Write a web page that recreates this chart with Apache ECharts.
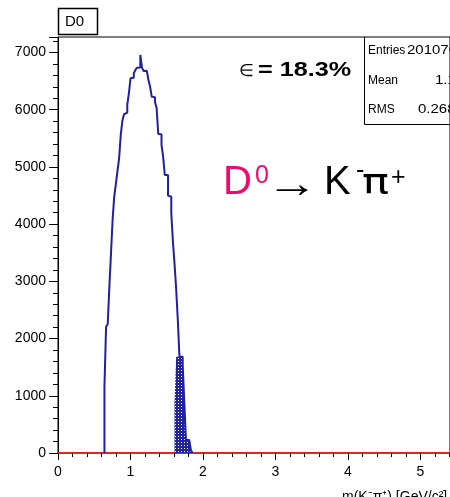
<!DOCTYPE html>
<html>
<head>
<meta charset="utf-8">
<script src="https://cdn.jsdelivr.net/npm/echarts@6/dist/echarts.min.js"></script>
<style>
html,body{margin:0;padding:0;background:#fff;}
#c{width:450px;height:497px;}
</style>
</head>
<body>
<div id="c"></div>
<script>
// ---- histogram definition (bin width 0.0225 GeV/c^2) ----
var binStart = 0.641;
var binWidth = 0.0225;
var counts = [1159, 2208, 2250, 2890, 3478, 4073, 4480, 4700, 4929, 5151,
              5559, 5803, 5921, 5950, 6083, 6288, 6550, 6560, 6637, 6695,
              6735, 6740, 6957, 6735, 6677, 6680, 6670, 6520, 6403, 6228,
              6220, 6136, 6031, 5576, 5570, 5384, 5180, 4859, 4859, 4498,
              4480, 4190, 3694, 3304, 2862, 2325, 1683, 1683, 1538, 874,
              227, 227, 227, 52];
// hatched (selected) part
var hatchStart = 1.6085;
var hatchCounts = [874, 1683, 1683, 1683, 1683, 1538, 874, 227, 227, 227, 52];

var xTicks = [0, 1, 2, 3, 4, 5];
var yTicks = [0, 1000, 2000, 3000, 4000, 5000, 6000, 7000];
var statNames = ['Entries', 'Mean', 'RMS'];
var statValues = ['201070', '1.171', '0.2683'];

function stepData(start, vals) {
  var d = [[start, 0]];
  for (var i = 0; i < vals.length; i++) {
    d.push([+(start + i * binWidth).toFixed(4), vals[i]]);
  }
  d.push([+(start + vals.length * binWidth).toFixed(4), 0]);
  return d;
}

// dotted hatch pattern
var pat = document.createElement('canvas');
pat.width = 3; pat.height = 3;
var pc = pat.getContext('2d');
pc.fillStyle = '#22229c';
pc.fillRect(0, 0, 3, 3);
pc.fillStyle = '#ffffff';
pc.fillRect(1, 1, 1, 1);

var FF = '"Liberation Sans", Arial, sans-serif';
var chart = echarts.init(document.getElementById('c'), null, {renderer: 'canvas'});

var graphics = [
  {type: 'rect', shape: {x: 58.5, y: 8.5, width: 39, height: 26},
   style: {fill: '#fff', stroke: '#000', lineWidth: 1.5}},
  {type: 'text', x: 65, y: 22, style: {text: 'D0', font: '15px ' + FF, fill: '#000', verticalAlign: 'middle'}},
  {type: 'line', shape: {x1: 364.5, y1: 37, x2: 364.5, y2: 124.5}, style: {stroke: '#000', lineWidth: 1}},
  {type: 'line', shape: {x1: 364.5, y1: 124.5, x2: 452, y2: 124.5}, style: {stroke: '#000', lineWidth: 1}},
  {type: 'text', x: 239, y: 71, style: {text: '\u2208', font: '17px ' + FF, fill: '#000', verticalAlign: 'middle'}},
  {type: 'text', x: 258, y: 70, scaleX: 1.2, style: {text: '= 18.3%', font: 'bold 21px ' + FF, fill: '#000', verticalAlign: 'middle'}},
  // D0 -> K- pi+
  {type: 'text', x: 223, y: 183, style: {text: 'D', font: '40px ' + FF, fill: '#f0086c', verticalAlign: 'middle'}},
  {type: 'text', x: 255, y: 176, style: {text: '0', font: '25px ' + FF, fill: '#f0086c', verticalAlign: 'middle'}},
  {type: 'text', x: 266, y: 186, scaleX: 1.3, style: {text: '\u2192', font: '40px ' + FF, fill: '#000', verticalAlign: 'middle'}},
  {type: 'text', x: 324, y: 183, style: {text: 'K', font: '40px ' + FF, fill: '#000', verticalAlign: 'middle'}},
  {type: 'text', x: 356, y: 171, style: {text: '-', font: '25px ' + FF, fill: '#000', verticalAlign: 'middle'}},
  {type: 'text', x: 362, y: 185, scaleX: 1.25, style: {text: '\u03c0', font: '36px "DejaVu Sans", sans-serif', fill: '#000', verticalAlign: 'middle'}},
  {type: 'text', x: 391, y: 178, style: {text: '+', font: '25px ' + FF, fill: '#000', verticalAlign: 'middle'}},
  // axis title (cut by bottom edge)
  {type: 'text', x: 342, y: 490, style: {text: 'm(K\u207B\u03c0\u207A) [GeV/c\u00B2]', font: '14px ' + FF, fill: '#000', verticalAlign: 'top'}}
];
var statY = [51, 81, 110];
var statX = [407, 435, 418];
for (var s = 0; s < statNames.length; s++) {
  graphics.push({type: 'text', x: 368, y: statY[s], style: {text: statNames[s], font: '12px ' + FF, fill: '#000', verticalAlign: 'middle'}});
  graphics.push({type: 'text', x: statX[s], y: statY[s], scaleX: 1.25, style: {text: statValues[s], font: '12px ' + FF, fill: '#000', verticalAlign: 'middle'}});
}

var option = {
  animation: false,
  backgroundColor: '#fff',
  grid: {left: 58, top: 37, right: -3, bottom: 44, show: true, borderColor: '#000', borderWidth: 1, backgroundColor: 'transparent'},
  xAxis: {
    type: 'value', min: 0, max: 5.41, interval: 1,
    axisLine: {show: true, onZero: false, lineStyle: {color: '#ee2020', width: 2}},
    axisTick: {show: true, length: 7, lineStyle: {color: '#000', width: 1}},
    minorTick: {show: true, splitNumber: 5, length: 4, lineStyle: {color: '#000', width: 1}},
    splitLine: {show: false},
    axisLabel: {show: true, showMaxLabel: false, margin: 12, fontSize: 14, fontFamily: FF, color: '#000',
      formatter: function (v) { return xTicks.indexOf(v) >= 0 ? String(v) : ''; }}
  },
  yAxis: {
    type: 'value', min: 0, max: 7271, interval: 1000,
    axisLine: {show: true, lineStyle: {color: '#000', width: 1}},
    axisTick: {show: true, length: 9, lineStyle: {color: '#000', width: 1}},
    minorTick: {show: true, splitNumber: 5, length: 5, lineStyle: {color: '#000', width: 1}},
    splitLine: {show: false},
    axisLabel: {show: true, showMaxLabel: false, margin: 12, fontSize: 14, fontFamily: FF, color: '#000',
      formatter: function (v) { return yTicks.indexOf(v) >= 0 ? String(v) : ''; }}
  },
  series: [
    {
      type: 'line', name: 'selected', step: 'end', symbol: 'none', z: 2,
      data: stepData(hatchStart, hatchCounts),
      lineStyle: {width: 0, opacity: 0},
      areaStyle: {color: {image: pat, repeat: 'repeat'}, opacity: 1}
    },
    {
      type: 'line', name: 'D0', step: 'end', symbol: 'none', z: 3,
      data: stepData(binStart, counts),
      lineStyle: {color: '#2020a0', width: 2}
    }
  ],
  graphic: graphics
};
chart.setOption(option);
</script>
</body>
</html>
